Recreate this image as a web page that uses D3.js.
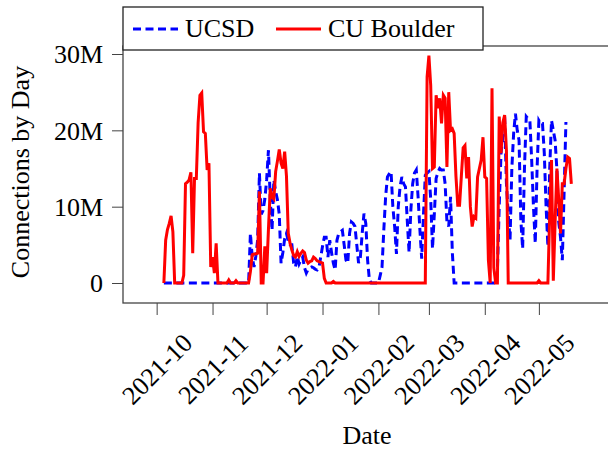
<!DOCTYPE html>
<html>
<head>
<meta charset="utf-8">
<script src="https://cdn.jsdelivr.net/npm/d3@7"></script>
<style>
  body { margin: 0; background: #fff; }
  text { font-family: "Liberation Serif", "DejaVu Serif", serif; fill: #000; }
</style>
</head>
<body>
<svg id="chart" width="608" height="449"></svg>
<script>
// first day of both series, one value per day after that (millions)
var startDate = "2021-10-05";

var ucsd = [
  0,0,0,0,0,0,0,0,0,0, 0,0,0,0,0,0,0,0,0,0,
  0,0,0,0,0,0,0,0,0,0, 0,0,0,0,0,0,0,0,0,0,
  0,0,0,0,0,0,0,0,
  6.5,3.4,2.1,3.5,5.6,14.4,9,9.5,11,13.5,17.4,11,6.9,13.5,12,10.9,9,2.6,
  4,5.8,6.5,5.5,5,5,2.6,2.1,3.5,2.5,3,3.4,2,1.3,1.8,2,2.1,2,1.8,1.7,2,
  3.4,4.8,6,6,3.4,5.6,4,2.6,1.7,5.6,6.5,6.7,6.9,5,3,2.6,6.5,8,7.8,7.4,5,
  2.6,3.4,6.5,9.1,7.8,3,0.4,0,0,0,0,0,1,2.1,7,11.3,13.9,14.3,14.6,10,7.4,
  3.8,10,12.6,13.9,13,12.6,8.2,4,9.6,13,14.4,14.8,11.3,7,3.2,9,14.1,14.4,
  14.6,11,4.5,9,13.7,14.5,15,14.8,14.8,13,8,7.4,11.3,4,
  0,0,0,0,0,0,0,0,0,0, 0,0,0,0,0,0,0,0,0,0, 0,0,0,0,
  1.7,10,17,19.1,21.8,13,9,5.6,15,19.6,22.2,20,18.7,8.2,4.5,15,21.8,21.5,
  21.3,16.1,10,5.2,15,21.3,20.9,20.9,17,10,4.8,15,21.3,20,18.7,14.8,8,6,3,
  12,21.1
];

var cuBoulder = [
  0,5.6,7.0,7.8,8.8,6.7,0,0,0,0,0,1,13,13.2,13.5,14.5,3.9,13.7,13.7,21,
  24.6,24.9,19.8,19.6,14.8,15.7,2.1,3.4,1.3,5.2,0,0,0,0,0,0,0.4,0,0,0,
  0.3,0,0,0,0,0,0,0,
  1.5,3.7,3.8,3.8,3.9,12,0,0,4.8,1.3,7,12.4,11.3,11,14.6,16,17.5,15.7,15,
  17.2,14,6.5,5.2,4.3,3.6,3.4,4.1,3.5,3.9,4.2,4.0,3.0,2.6,2.8,2.9,3.4,3.2,
  2.9,2.8,2.7,2.6,0.6,
  0,0,0,0,0.2,0,0,0,0,0, 0,0,0,0,0,0,0,0,0,0, 0,0,0,0,0,0,0,0,0,0,
  0,0,0,0,0,0,0,0,0,0, 0,0,0,0,0,0,0,0,0,0, 0,0,0,0,0,0,
  27,29.8,25.9,15,15.2,24.6,22.9,24.2,20.9,24.6,24.2,15.2,25,20,20.2,19.6,
  14,10.2,10.2,14,17.7,18,13.7,16.5,10,7.4,8.7,8.5,13.9,15,16.1,19.1,13.9,
  13.7,3,0,25.5,2,0,0,21.8,17,21,22,17.4,
  0,0,0,0,0,0,0,0,0,0, 0,0,0,0,0,0,0,0.3,0,0, 0,0,0,
  9,16.1,0.3,8,15,11,6.5,13,13,15,16.5,16.3,13
];

var monthTicks = ["2021-10","2021-11","2021-12","2022-01","2022-02","2022-03","2022-04","2022-05"];
var yTicks = [0, 10, 20, 30];
var yTickLabels = ["0", "10M", "20M", "30M"];
var seriesNames = ["UCSD", "CU Boulder"];

var svg = d3.select("#chart");
var frame = {left: 123, right: 611, top: 46, bottom: 303};

var parseDay = d3.utcParse("%Y-%m-%d");
var parseMonth = d3.utcParse("%Y-%m");
var day0 = parseDay(startDate);

var x = d3.scaleUtc()
  .domain([Date.UTC(2021, 8, 12, 8), Date.UTC(2022, 5, 10, 0)])
  .range([frame.left, frame.right]);
var y = d3.scaleLinear().domain([-2.62, 31.05]).range([frame.bottom, frame.top]);

svg.append("clipPath").attr("id", "clip")
  .append("rect")
  .attr("x", frame.left).attr("y", frame.top)
  .attr("width", frame.right - frame.left).attr("height", frame.bottom - frame.top);

var line = d3.line()
  .x(function(d, i) { return x(d3.utcDay.offset(day0, i)); })
  .y(function(d) { return y(d); });

var plot = svg.append("g").attr("clip-path", "url(#clip)");

plot.append("path")
  .attr("d", line(ucsd))
  .attr("fill", "none")
  .attr("stroke", "#0000ff")
  .attr("stroke-width", 3)
  .attr("stroke-dasharray", "8,4.5");

plot.append("path")
  .attr("d", line(cuBoulder))
  .attr("fill", "none")
  .attr("stroke", "#ff0000")
  .attr("stroke-width", 3);

// frame
svg.append("rect")
  .attr("x", frame.left).attr("y", frame.top)
  .attr("width", frame.right - frame.left).attr("height", frame.bottom - frame.top)
  .attr("fill", "none").attr("stroke", "#444").attr("stroke-width", 1.3);

// y axis, ticks outside the frame
var yAxis = svg.append("g")
  .attr("transform", "translate(" + frame.left + ",0)")
  .call(d3.axisLeft(y).tickValues(yTicks).tickSize(11).tickPadding(9)
    .tickFormat(function(d, i) { return yTickLabels[i]; }));
yAxis.select(".domain").remove();
yAxis.selectAll(".tick line").attr("stroke", "#444").attr("stroke-width", 1);
yAxis.selectAll(".tick text")
  .attr("font-family", "Liberation Serif").attr("font-size", 26).attr("dy", "0.34em");

// x axis, month ticks with rotated labels centered under the tick
var xAxis = svg.append("g")
  .attr("transform", "translate(0," + frame.bottom + ")")
  .call(d3.axisBottom(x).tickValues(monthTicks.map(parseMonth)).tickSize(12)
    .tickFormat(d3.utcFormat("%Y-%m")));
xAxis.select(".domain").remove();
xAxis.selectAll(".tick line").attr("stroke", "#444").attr("stroke-width", 1);
xAxis.selectAll(".tick text")
  .attr("font-family", "Liberation Serif").attr("font-size", 26)
  .attr("text-anchor", "middle")
  .attr("y", 0).attr("dy", "0.34em")
  .attr("transform", "translate(0,66) rotate(-45)");

svg.append("text")
  .attr("x", 367).attr("y", 444)
  .attr("text-anchor", "middle").attr("font-size", 26)
  .text("Date");

svg.append("text")
  .attr("transform", "translate(29,172) rotate(-90)")
  .attr("text-anchor", "middle").attr("font-size", 26)
  .text("Connections by Day");

// legend
var legend = svg.append("g");
legend.append("rect")
  .attr("x", 123).attr("y", 7).attr("width", 360).attr("height", 43)
  .attr("fill", "#fff").attr("stroke", "#222").attr("stroke-width", 1.3);

var legendItems = [
  {name: seriesNames[0], color: "#0000ff", dash: "8,4.5", x: 133, tx: 185},
  {name: seriesNames[1], color: "#ff0000", dash: null, x: 276, tx: 328}
];
legendItems.forEach(function(it) {
  legend.append("line")
    .attr("x1", it.x).attr("x2", it.x + 45).attr("y1", 29).attr("y2", 29)
    .attr("stroke", it.color).attr("stroke-width", 3)
    .attr("stroke-dasharray", it.dash);
  legend.append("text")
    .attr("x", it.tx).attr("y", 37).attr("font-size", 26)
    .text(it.name);
});
</script>
</body>
</html>
